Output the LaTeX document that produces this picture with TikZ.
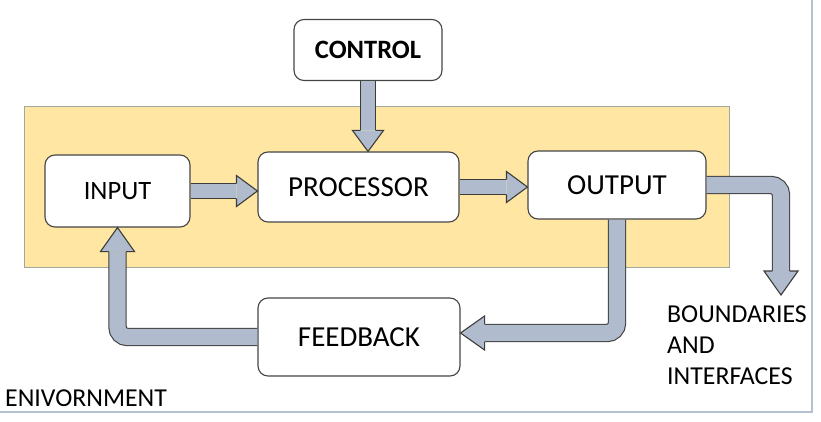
\documentclass[tikz,border=0pt]{standalone}
\usepackage{fontspec}
\setmainfont{Carlito}
\usepackage{tikz}
\usetikzlibrary{calc,positioning}
\definecolor{sysyellow}{HTML}{FFE6A3}
\definecolor{sysline}{HTML}{9EA89C}
\definecolor{envline}{HTML}{B2C2D2}
\definecolor{boxline}{HTML}{454545}
\definecolor{pipefill}{HTML}{B0BCCD}
\definecolor{pipeline}{HTML}{3C3C3C}
\tikzset{
    %Define style for boxes
    block/.style={
           rectangle,
           rounded corners=10pt,
           draw=boxline, line width=1.1pt,
           fill=white,
           text centered,
           font=\fontsize{29}{33}\selectfont},
    smallblock/.style={
           block,
           font=\fontsize{26.5}{30}\selectfont},
    % Define arrow styles
    pipe/.style={
           draw=pipeline, line width=1.1pt,
           double=pipefill, double distance=13.8pt},
    widepipe/.style={
           draw=pipeline, line width=1.1pt,
           double=pipefill, double distance=16.2pt,
           rounded corners=10pt},
    pipehead/.pic={
           \filldraw[draw=pipeline, fill=pipefill, line width=1.1pt, line join=miter]
           (-21,-7.45) -- (-21,-15.5) -- (0,0) -- (-21,15.5) -- (-21,7.45);},
    widehead/.pic={
           \filldraw[draw=pipeline, fill=pipefill, line width=1.1pt, line join=miter]
           (-24,-8.65) -- (-24,-17) -- (0,0) -- (-24,17) -- (-24,8.65);},
    txt/.style={
           inner sep=0pt,
           font=\fontsize{25.8}{31.2}\selectfont}
}

\begin{document}
\begin{tikzpicture}[x=1pt,y=-1pt]
\useasboundingbox (0,0) rectangle (821,422);
% environment and system
\draw[envline, line width=1.2pt] (0,412) -- (812,412) -- (812,0);
\draw[sysline, line width=0.8pt, fill=sysyellow] (24,106) rectangle (729,267);
\node[smallblock, minimum width=148pt, minimum height=61pt] (ctrl) at (368,50) {\textbf{CONTROL}};
\node[smallblock, minimum width=145pt, minimum height=72pt] (in) at (117.5,191) {INPUT};
\node[block, minimum width=201pt, minimum height=70pt] (proc) at (358.5,187) {PROCESSOR};
\node[block, minimum width=178pt, minimum height=68pt] (out) at (617,185) {OUTPUT};
\node[block, minimum width=202pt, minimum height=78pt] (fb) at (359,337) {FEEDBACK};
\node[txt, anchor=base west] (env) at (5,406) {ENIVORNMENT};
\node[txt, anchor=north west, align=left] (bnd) at (667,305.5) {BOUNDARIES\\AND\\INTERFACES};
% straight arrows
\coordinate (t1) at (ctrl.south |- proc.north);
\draw[pipe] (ctrl.south) -- ($(t1)+(0,-21)$);
\pic[rotate=-90] at (t1) {pipehead};
\coordinate (t2) at (in.east -| proc.west);
\draw[pipe] (in.east) -- ($(t2)+(-21,0)$);
\pic at (t2) {pipehead};
\coordinate (t3) at (proc.east -| out.west);
\draw[pipe] (proc.east) -- ($(t3)+(-21,0)$);
\pic at (t3) {pipehead};
% bent arrows
\coordinate (t4) at (781,295);
\draw[widepipe] (out.east) -| ($(t4)+(0,-24)$);
\pic[rotate=-90] at (t4) {widehead};
\coordinate (t5) at ($(fb.east)+(0,-4)$);
\draw[widepipe] (out.south) |- ($(t5)+(24,0)$);
\pic[rotate=180] at (t5) {widehead};
\draw[widepipe] (fb.west) -| ($(in.south)+(0,24)$);
\pic[rotate=90] at (in.south) {widehead};
\end{tikzpicture}
\end{document}
